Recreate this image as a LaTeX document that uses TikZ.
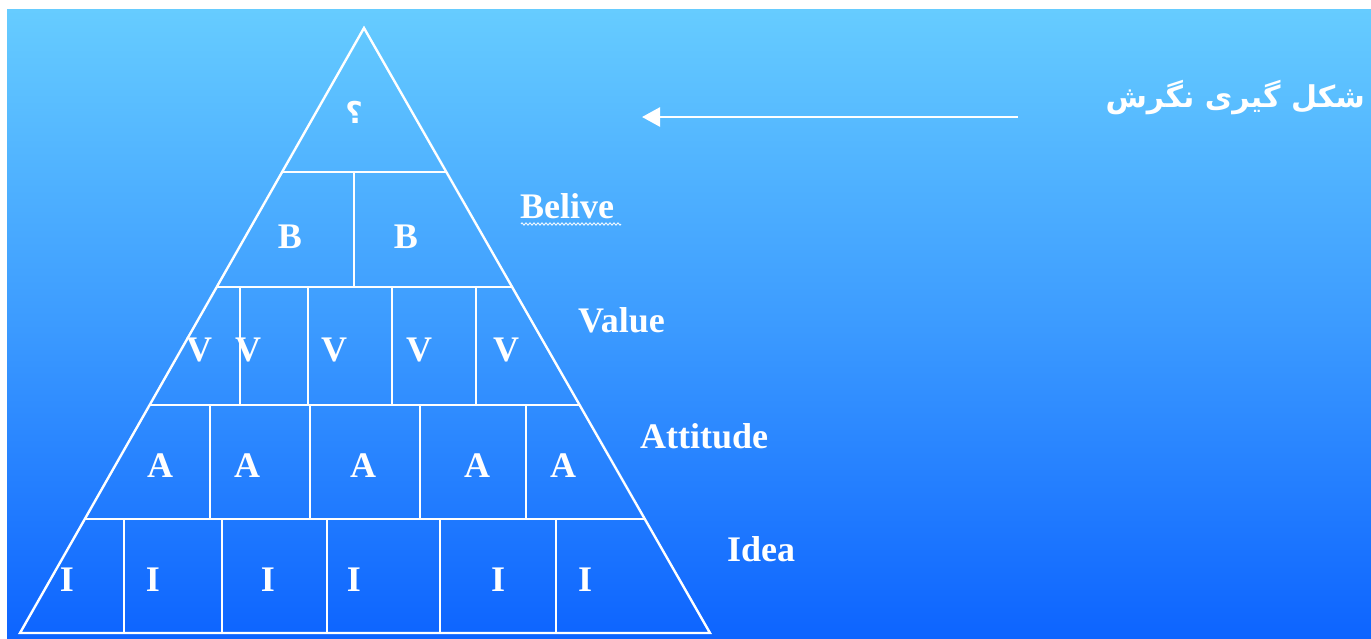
\documentclass[tikz,border=0pt]{standalone}
\usepackage{fontspec}
\setmainfont{Liberation Serif}
\newfontfamily\arabicfont[Script=Arabic]{DejaVu Sans}
\TeXXeTstate=1
\usetikzlibrary{calc,arrows.meta,decorations.pathmorphing}
\definecolor{bgtop}{RGB}{102,204,255}
\definecolor{bgbot}{RGB}{13,100,255}
\tikzset{
  edge/.style={draw=white,line width=2.4pt,line join=miter},
  divider/.style={draw=white,line width=1.4pt},
  cell/.style={text=white,font=\fontsize{36}{36}\selectfont\bfseries,inner sep=0pt},
  side/.style={text=white,font=\fontsize{36}{36}\selectfont\bfseries,inner sep=0pt,anchor=west},
  pointer/.style={draw=white,line width=2.6pt,-{Triangle[length=18pt,width=19pt]}}
}
\begin{document}
\begin{tikzpicture}[x=1pt,y=1pt]
\useasboundingbox (0,0) rectangle (1371,-638);
\fill[white] (0,0) rectangle (1371,-638);
\shade[top color=bgtop,bottom color=bgbot,middle color={rgb,255:red,60;green,155;blue,255}] (7,-9) rectangle (1371,-638);
% pyramid outline
\coordinate (T) at (364,-28);
\coordinate (BL) at (20,-633);
\coordinate (BR) at (710,-633);
\draw[edge] (T) -- (BL) -- (BR) -- cycle;
% horizontal levels
\foreach \n/\yy in {1/172,2/287,3/405,4/519}{
  \coordinate (L\n) at ($(T)!{(\yy-28)/605}!(BL)$);
  \coordinate (R\n) at ($(T)!{(\yy-28)/605}!(BR)$);
  \draw[divider] (L\n) -- (R\n);
}
% vertical dividers
\draw[divider] (354,-172) -- (354,-287);
\foreach \xx in {240,308,392,476}{\draw[divider] (\xx,-287) -- (\xx,-405);}
\foreach \xx in {210,310,420,526}{\draw[divider] (\xx,-405) -- (\xx,-519);}
\foreach \xx in {124,222,327,440,556}{\draw[divider] (\xx,-519) -- (\xx,-633);}
% cell labels
\node[cell] (q) at (354,-112) {\fontsize{30}{30}\selectfont\arabicfont\bfseries ؟};
\node[cell] (b1) at (290,-237) {B};
\node[cell] (b2) at (406,-237) {B};
\node[cell] (v1) at (199,-350) {V};
\node[cell] (v2) at (248,-350) {V};
\node[cell] (v3) at (334,-350) {V};
\node[cell] (v4) at (419,-350) {V};
\node[cell] (v5) at (506,-350) {V};
\node[cell] (a1) at (160,-466) {A};
\node[cell] (a2) at (247,-466) {A};
\node[cell] (a3) at (363,-466) {A};
\node[cell] (a4) at (477,-466) {A};
\node[cell] (a5) at (563,-466) {A};
\node[cell] (i1) at (67,-580) {I};
\node[cell] (i2) at (153,-580) {I};
\node[cell] (i3) at (268,-580) {I};
\node[cell] (i4) at (354,-580) {I};
\node[cell] (i5) at (498,-580) {I};
\node[cell] (i6) at (585,-580) {I};
% side labels
\node[side] (belive) at (520,-206) {Belive};
\draw[white,line width=0.8pt,decorate,decoration={zigzag,segment length=4pt,amplitude=1.2pt}] (521,-224) -- (621,-224);
\node[side] (value) at (578,-320) {Value};
\node[side] (attitude) at (640,-436) {Attitude};
\node[side] (idea) at (727,-549) {Idea};
% title and arrow
\node[text=white,inner sep=0pt,anchor=east] (title) at (1365,-98)
  {\fontsize{30}{30}\selectfont\arabicfont\bfseries\beginR شکل گیری نگرش\endR};
\coordinate (arrfrom) at (1018,-117);
\coordinate (arrto) at (642,-117);
\draw[pointer] (arrfrom) -- (arrto);
\end{tikzpicture}
\end{document}
